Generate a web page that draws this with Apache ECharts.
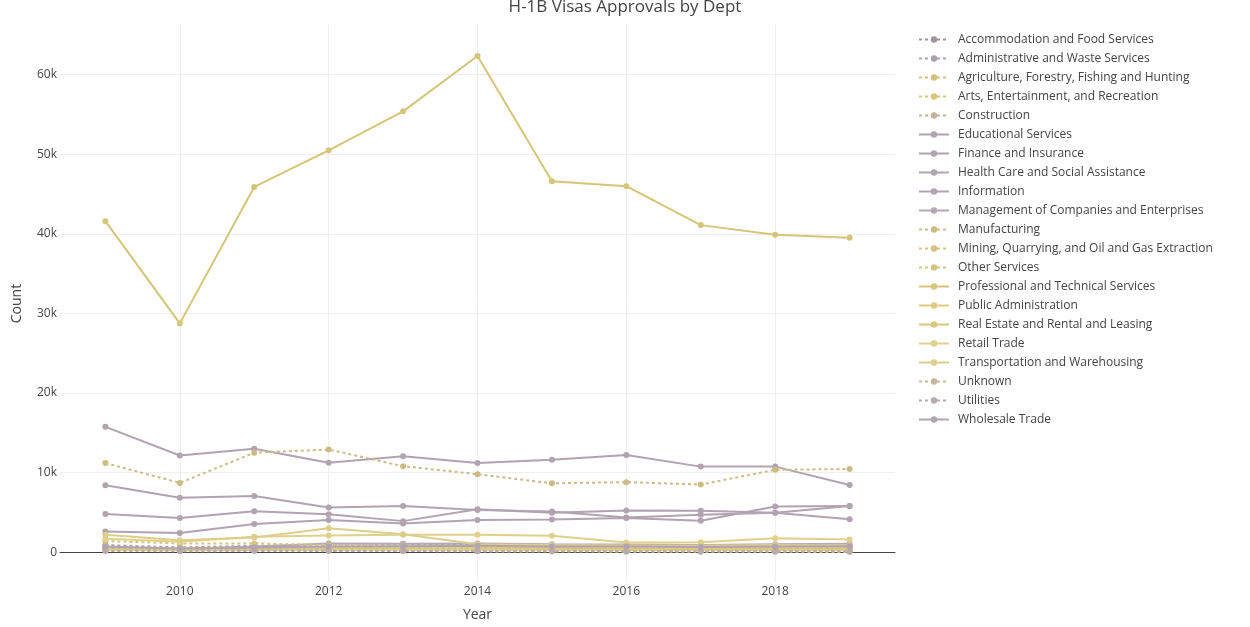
<!DOCTYPE html>
<html>
<head>
<meta charset="utf-8">
<script src="https://cdn.jsdelivr.net/npm/echarts@6/dist/echarts.min.js"></script>
<style>
html,body{margin:0;padding:0;background:#fff;}
#chart{width:1250px;height:627px;}
</style>
</head>
<body>
<div id="chart"></div>
<script>
const years = [2009, 2010, 2011, 2012, 2013, 2014, 2015, 2016, 2017, 2018, 2019];
const departments = [
  'Accommodation and Food Services',
  'Administrative and Waste Services',
  'Agriculture, Forestry, Fishing and Hunting',
  'Arts, Entertainment, and Recreation',
  'Construction',
  'Educational Services',
  'Finance and Insurance',
  'Health Care and Social Assistance',
  'Information',
  'Management of Companies and Enterprises',
  'Manufacturing',
  'Mining, Quarrying, and Oil and Gas Extraction',
  'Other Services',
  'Professional and Technical Services',
  'Public Administration',
  'Real Estate and Rental and Leasing',
  'Retail Trade',
  'Transportation and Warehousing',
  'Unknown',
  'Utilities',
  'Wholesale Trade'
];
const accommodation = [400, 300, 350, 380, 400, 420, 380, 350, 300, 320, 300];
const administrative = [900, 600, 800, 900, 950, 1000, 900, 850, 750, 800, 750];
const agriculture = [250, 200, 230, 250, 260, 250, 240, 230, 220, 230, 220];
const arts = [450, 380, 420, 430, 440, 430, 400, 380, 350, 360, 350];
const construction = [700, 500, 600, 650, 700, 720, 680, 650, 600, 620, 600];
const educational = [15750, 12150, 13000, 11250, 12050, 11200, 11600, 12200, 10750, 10750, 8450];
const finance = [4800, 4300, 5150, 4750, 3900, 5400, 4950, 5250, 5200, 4950, 4150];
const health = [2600, 2400, 3550, 4050, 3600, 4050, 4100, 4300, 3950, 5750, 5800];
const information = [8400, 6850, 7050, 5600, 5800, 5300, 5100, 4350, 4700, 4950, 5800];
const management = [600, 400, 700, 1100, 1050, 1100, 1000, 950, 900, 1000, 1050];
const manufacturing = [11200, 8700, 12500, 12900, 10800, 9800, 8650, 8800, 8500, 10350, 10450];
const mining = [400, 300, 350, 380, 400, 380, 300, 250, 230, 250, 240];
const otherServices = [1400, 1100, 1100, 900, 800, 700, 600, 550, 500, 600, 550];
const professional = [41600, 28750, 45900, 50500, 55400, 62350, 46600, 46000, 41100, 39900, 39500];
const publicAdmin = [300, 250, 280, 300, 320, 300, 290, 280, 270, 280, 270];
const realEstate = [550, 450, 500, 520, 540, 560, 520, 500, 480, 490, 480];
const retail = [1700, 1300, 1950, 2100, 2200, 2200, 2050, 1200, 1250, 1750, 1600];
const transportation = [2200, 1500, 1850, 3000, 2250, 1000, 900, 850, 800, 900, 850];
const unknown = [500, 400, 300, 200, 150, 100, 80, 60, 50, 40, 30];
const utilities = [150, 120, 140, 150, 160, 150, 140, 130, 120, 130, 120];
const wholesale = [700, 450, 600, 700, 750, 800, 700, 700, 650, 700, 750];
const yTickLabels = ['0', '10k', '20k', '30k', '40k', '50k', '60k'];

const seriesValues = [accommodation, administrative, agriculture, arts, construction,
  educational, finance, health, information, management, manufacturing, mining,
  otherServices, professional, publicAdmin, realEstate, retail, transportation,
  unknown, utilities, wholesale];

const colors = ['#a2949f', '#ada0ab', '#d4c27c', '#d9c67a', '#c2b39a',
  '#b1a3b0', '#b1a3b0', '#b1a3b0', '#b1a3b0', '#b4a8b2',
  '#cdbb86', '#d5c37e', '#d6c47c', '#d6c479', '#dccb82',
  '#d9c781', '#e0d08a', '#ddce8c', '#c5b79c', '#b9abab', '#b1a3b0'];
const DOT = [3, 3];
const dashes = [DOT, DOT, DOT, DOT, DOT,
  'solid', 'solid', 'solid', 'solid', 'solid',
  DOT, DOT, DOT, 'solid', 'solid',
  'solid', 'solid', 'solid', DOT, DOT, 'solid'];

const series = departments.map((name, i) => ({
  name: name,
  type: 'line',
  xAxisIndex: 0,
  data: years.map((y, j) => [y, seriesValues[i][j]]),
  symbol: 'circle',
  symbolSize: 6,
  lineStyle: { width: 2, color: colors[i], type: dashes[i] },
  itemStyle: { color: colors[i] },
  emphasis: { disabled: true },
  animation: false
}));

const chart = echarts.init(document.getElementById('chart'));
chart.setOption({
  backgroundColor: '#fff',
  textStyle: { fontFamily: 'Open Sans' },
  title: {
    text: 'H-1B Visas Approvals by Dept',
    left: 'center',
    top: -6,
    textStyle: { fontSize: 17, fontWeight: 'normal', color: '#444', fontFamily: 'Open Sans' }
  },
  legend: {
    orient: 'vertical',
    left: 913,
    top: 25,
    itemWidth: 30,
    itemHeight: 8,
    itemGap: 0,
    textStyle: { fontSize: 12, color: '#444', lineHeight: 19, padding: [0, 0, 0, 4], fontFamily: 'Open Sans' },
    data: departments
  },
  grid: { left: 60, right: 355, top: 25, bottom: 42 },
  xAxis: [{
    type: 'value',
    min: 2008.39,
    max: 2019.61,
    splitNumber: 5,
    name: 'Year',
    nameLocation: 'middle',
    nameGap: 26,
    nameTextStyle: { fontSize: 14, color: '#444' },
    axisLine: { show: false, onZero: false },
    axisTick: { show: false },
    axisLabel: {
      color: '#444', fontSize: 12, margin: 4,
      showMinLabel: false, showMaxLabel: false,
      formatter: v => String(Math.round(v))
    },
    splitLine: { show: true, showMinLine: false, showMaxLine: false, lineStyle: { color: '#f0efea', width: 1 } }
  }, {
    type: 'value',
    position: 'bottom',
    min: 2008.39,
    max: 2019.61,
    axisLine: { show: true, onZero: true, lineStyle: { color: '#444', width: 1 } },
    axisTick: { show: false },
    axisLabel: { show: false },
    splitLine: { show: false }
  }],
  yAxis: {
    type: 'value',
    min: -3750,
    max: 66250,
    splitNumber: 7,
    name: 'Count',
    nameLocation: 'middle',
    nameGap: 36,
    nameTextStyle: { fontSize: 14, color: '#444' },
    axisLine: { show: false },
    axisTick: { show: false },
    axisLabel: {
      color: '#444', fontSize: 12, margin: 3,
      showMinLabel: false, showMaxLabel: false,
      formatter: v => {
        const idx = Math.round(v / 10000);
        return (v % 10000 === 0 && idx >= 0 && idx < yTickLabels.length) ? yTickLabels[idx] : '';
      }
    },
    splitLine: { show: true, showMinLine: false, showMaxLine: false, lineStyle: { color: '#f0efea', width: 1 } }
  },
  series: series
});
</script>
</body>
</html>
